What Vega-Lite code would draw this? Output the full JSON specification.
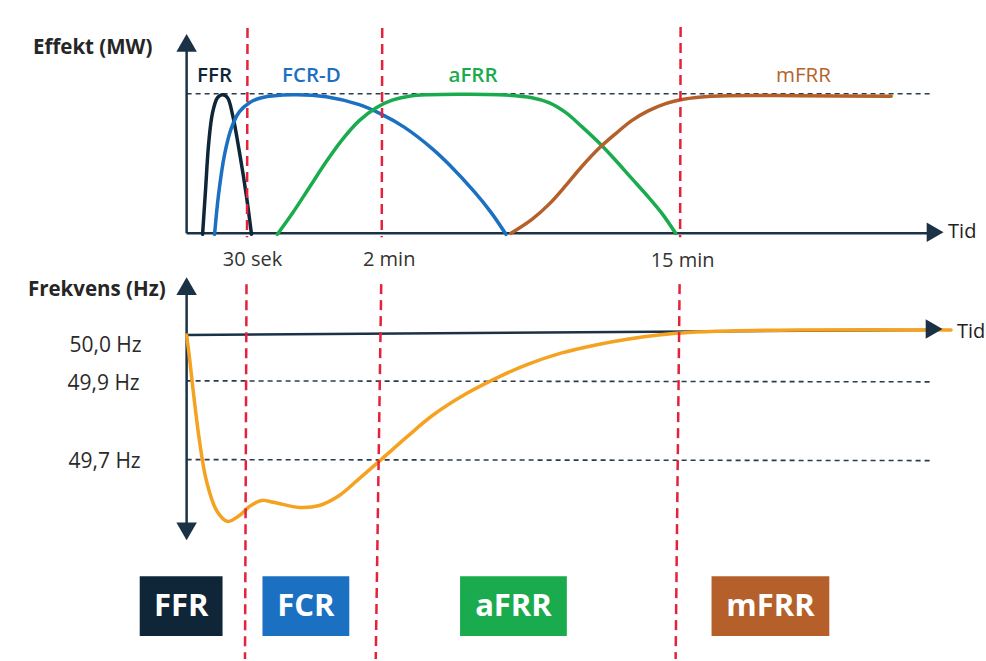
{
  "$schema": "https://vega.github.io/schema/vega-lite/v6.json",
  "width": 986,
  "height": 661,
  "autosize": {"type": "fit", "contains": "padding"},
  "padding": 0,
  "background": "white",
  "config": {"view": {"stroke": null}, "font": "Open Sans"},
  "datasets": {
    "curves": [
      {"series": "FFR", "x": 203, "y": 235}, {"series": "FFR", "x": 206, "y": 190}, {"series": "FFR", "x": 209, "y": 145}, {"series": "FFR", "x": 213, "y": 113}, {"series": "FFR", "x": 218, "y": 98}, {"series": "FFR", "x": 223, "y": 95}, {"series": "FFR", "x": 228, "y": 98}, {"series": "FFR", "x": 233, "y": 115}, {"series": "FFR", "x": 240, "y": 153}, {"series": "FFR", "x": 247, "y": 197}, {"series": "FFR", "x": 252, "y": 235},
      {"series": "FCR-D", "x": 215, "y": 235}, {"series": "FCR-D", "x": 219, "y": 195}, {"series": "FCR-D", "x": 225, "y": 155}, {"series": "FCR-D", "x": 232, "y": 128}, {"series": "FCR-D", "x": 240, "y": 112}, {"series": "FCR-D", "x": 250, "y": 103}, {"series": "FCR-D", "x": 262, "y": 98}, {"series": "FCR-D", "x": 293, "y": 95}, {"series": "FCR-D", "x": 327, "y": 97}, {"series": "FCR-D", "x": 360, "y": 105}, {"series": "FCR-D", "x": 383, "y": 115}, {"series": "FCR-D", "x": 405, "y": 127.5}, {"series": "FCR-D", "x": 433, "y": 149}, {"series": "FCR-D", "x": 450, "y": 165}, {"series": "FCR-D", "x": 475, "y": 192}, {"series": "FCR-D", "x": 492, "y": 213}, {"series": "FCR-D", "x": 507, "y": 235},
      {"series": "aFRR", "x": 278, "y": 235}, {"series": "aFRR", "x": 293, "y": 214}, {"series": "aFRR", "x": 310, "y": 188}, {"series": "aFRR", "x": 327, "y": 162}, {"series": "aFRR", "x": 343, "y": 140}, {"series": "aFRR", "x": 360, "y": 121}, {"series": "aFRR", "x": 377, "y": 108}, {"series": "aFRR", "x": 393, "y": 100.5}, {"series": "aFRR", "x": 410, "y": 96.5}, {"series": "aFRR", "x": 430, "y": 95}, {"series": "aFRR", "x": 460, "y": 94.5}, {"series": "aFRR", "x": 500, "y": 95}, {"series": "aFRR", "x": 533, "y": 98}, {"series": "aFRR", "x": 550, "y": 103}, {"series": "aFRR", "x": 567, "y": 113}, {"series": "aFRR", "x": 583, "y": 127}, {"series": "aFRR", "x": 600, "y": 143}, {"series": "aFRR", "x": 617, "y": 161}, {"series": "aFRR", "x": 633, "y": 179}, {"series": "aFRR", "x": 650, "y": 198}, {"series": "aFRR", "x": 664, "y": 215}, {"series": "aFRR", "x": 677, "y": 234},
      {"series": "mFRR", "x": 512, "y": 234}, {"series": "mFRR", "x": 533, "y": 220}, {"series": "mFRR", "x": 550, "y": 205}, {"series": "mFRR", "x": 567, "y": 186}, {"series": "mFRR", "x": 583, "y": 167}, {"series": "mFRR", "x": 600, "y": 149}, {"series": "mFRR", "x": 617, "y": 134}, {"series": "mFRR", "x": 633, "y": 121}, {"series": "mFRR", "x": 650, "y": 111}, {"series": "mFRR", "x": 667, "y": 104}, {"series": "mFRR", "x": 682, "y": 100}, {"series": "mFRR", "x": 700, "y": 97.5}, {"series": "mFRR", "x": 730, "y": 96}, {"series": "mFRR", "x": 800, "y": 96}, {"series": "mFRR", "x": 893, "y": 96.5},
      {"series": "Frekvens", "x": 187, "y": 336}, {"series": "Frekvens", "x": 190, "y": 360}, {"series": "Frekvens", "x": 193, "y": 387}, {"series": "Frekvens", "x": 200, "y": 443}, {"series": "Frekvens", "x": 207, "y": 483}, {"series": "Frekvens", "x": 217, "y": 512}, {"series": "Frekvens", "x": 228, "y": 523}, {"series": "Frekvens", "x": 240, "y": 517}, {"series": "Frekvens", "x": 250, "y": 508}, {"series": "Frekvens", "x": 262, "y": 502}, {"series": "Frekvens", "x": 275, "y": 504}, {"series": "Frekvens", "x": 300, "y": 509}, {"series": "Frekvens", "x": 320, "y": 507}, {"series": "Frekvens", "x": 340, "y": 497}, {"series": "Frekvens", "x": 360, "y": 480}, {"series": "Frekvens", "x": 383, "y": 460}, {"series": "Frekvens", "x": 408, "y": 438}, {"series": "Frekvens", "x": 433, "y": 417}, {"series": "Frekvens", "x": 467, "y": 395}, {"series": "Frekvens", "x": 500, "y": 378}, {"series": "Frekvens", "x": 530, "y": 365}, {"series": "Frekvens", "x": 563, "y": 354}, {"series": "Frekvens", "x": 597, "y": 346}, {"series": "Frekvens", "x": 630, "y": 340}, {"series": "Frekvens", "x": 660, "y": 336}, {"series": "Frekvens", "x": 690, "y": 333.5}, {"series": "Frekvens", "x": 730, "y": 332}, {"series": "Frekvens", "x": 800, "y": 331}, {"series": "Frekvens", "x": 953, "y": 331}
    ],
    "rules": [
      {"kind": "red", "x": 248, "y": 28, "x2": 247.5, "y2": 238},
      {"kind": "red", "x": 247, "y": 285, "x2": 245.5, "y2": 661},
      {"kind": "red", "x": 383, "y": 28, "x2": 382.5, "y2": 238},
      {"kind": "red", "x": 382, "y": 285, "x2": 376.5, "y2": 661},
      {"kind": "red", "x": 682, "y": 27, "x2": 681.5, "y2": 238},
      {"kind": "red", "x": 681, "y": 285, "x2": 677, "y2": 661},
      {"kind": "ref", "x": 187, "y": 94, "x2": 932, "y2": 94},
      {"kind": "ref", "x": 187, "y": 382, "x2": 932, "y2": 383},
      {"kind": "ref", "x": 187, "y": 461, "x2": 932, "y2": 462},
      {"kind": "axis", "x": 187, "y": 234, "x2": 187, "y2": 50},
      {"kind": "axis", "x": 187, "y": 234, "x2": 930, "y2": 234},
      {"kind": "axis", "x": 187, "y": 292, "x2": 187, "y2": 528},
      {"kind": "axis", "x": 187, "y": 336, "x2": 930, "y2": 331}
    ],
    "arrows": [
      {"dir": "up", "x": 187, "y": 43},
      {"dir": "up", "x": 187, "y": 287},
      {"dir": "down", "x": 187, "y": 533},
      {"dir": "right", "x": 937, "y": 233},
      {"dir": "right", "x": 936, "y": 330}
    ],
    "boxes": [
      {"series": "FFR", "x": 140, "x2": 223, "y": 578, "y2": 638},
      {"series": "FCR-D", "x": 263, "x2": 350, "y": 578, "y2": 638},
      {"series": "aFRR", "x": 461, "x2": 568, "y": 578, "y2": 638},
      {"series": "mFRR", "x": 713, "x2": 831, "y": 578, "y2": 638}
    ],
    "texts": [
      {"group": "title", "text": "Effekt (MW)", "x": 33, "y": 48},
      {"group": "title", "text": "Frekvens (Hz)", "x": 28, "y": 291},
      {"group": "series", "series": "FFR", "text": "FFR", "x": 215, "y": 76},
      {"group": "series", "series": "FCR-D", "text": "FCR-D", "x": 312, "y": 76},
      {"group": "series", "series": "aFRR", "text": "aFRR", "x": 474, "y": 76},
      {"group": "series", "series": "mFRR", "text": "mFRR", "x": 805, "y": 76},
      {"group": "tick", "text": "30 sek", "x": 253, "y": 261},
      {"group": "tick", "text": "2 min", "x": 390, "y": 261},
      {"group": "tick", "text": "15 min", "x": 684, "y": 262},
      {"group": "tid", "text": "Tid", "x": 950, "y": 233},
      {"group": "tid", "text": "Tid", "x": 959, "y": 333},
      {"group": "hz", "text": "50,0 Hz", "x": 142, "y": 347},
      {"group": "hz", "text": "49,9 Hz", "x": 140, "y": 385},
      {"group": "hz", "text": "49,7 Hz", "x": 141, "y": 463},
      {"group": "box", "text": "FFR", "x": 181.5, "y": 609},
      {"group": "box", "text": "FCR", "x": 306.5, "y": 609},
      {"group": "box", "text": "aFRR", "x": 514.5, "y": 609},
      {"group": "box", "text": "mFRR", "x": 772, "y": 609}
    ]
  },
  "encoding": {
    "x": {"field": "x", "type": "quantitative", "scale": {"domain": [0, 986], "nice": false, "zero": false}, "axis": null},
    "y": {"field": "y", "type": "quantitative", "scale": {"domain": [0, 661], "reverse": true, "nice": false, "zero": false}, "axis": null}
  },
  "layer": [
    {
      "data": {"name": "boxes"},
      "mark": {"type": "rect"},
      "encoding": {
        "x2": {"field": "x2"},
        "y2": {"field": "y2"},
        "color": {"field": "series", "type": "nominal", "legend": null, "scale": {"domain": ["FFR", "FCR-D", "aFRR", "mFRR", "Frekvens"], "range": ["#0f2638", "#1b70c2", "#1aab4e", "#b5602a", "#f4a21f"]}}
      }
    },
    {
      "data": {"name": "rules"},
      "transform": [{"filter": "datum.kind == 'ref'"}],
      "mark": {"type": "rule", "color": "#2a3b4d", "strokeWidth": 1.6, "strokeDash": [5, 4]},
      "encoding": {"x2": {"field": "x2"}, "y2": {"field": "y2"}}
    },
    {
      "data": {"name": "rules"},
      "transform": [{"filter": "datum.kind == 'axis'"}],
      "mark": {"type": "rule", "color": "#1b3246", "strokeWidth": 2.5},
      "encoding": {"x2": {"field": "x2"}, "y2": {"field": "y2"}}
    },
    {
      "data": {"name": "curves"},
      "mark": {"type": "line", "interpolate": "catmull-rom", "strokeWidth": 3.5, "strokeCap": "round"},
      "encoding": {
        "color": {"field": "series", "type": "nominal", "legend": null, "scale": {"domain": ["FFR", "FCR-D", "aFRR", "mFRR", "Frekvens"], "range": ["#13283a", "#1f6fc0", "#22ad4e", "#b5622c", "#f4a21f"]}}
      }
    },
    {
      "data": {"name": "rules"},
      "transform": [{"filter": "datum.kind == 'red'"}],
      "mark": {"type": "rule", "color": "#e3233b", "strokeWidth": 2.5, "strokeDash": [10, 6]},
      "encoding": {"x2": {"field": "x2"}, "y2": {"field": "y2"}}
    },
    {
      "data": {"name": "arrows"},
      "transform": [{"filter": "datum.dir == 'up'"}],
      "mark": {"type": "point", "shape": "triangle-up", "size": 420, "filled": true, "opacity": 1, "color": "#1b3246"}
    },
    {
      "data": {"name": "arrows"},
      "transform": [{"filter": "datum.dir == 'down'"}],
      "mark": {"type": "point", "shape": "triangle-down", "size": 420, "filled": true, "opacity": 1, "color": "#1b3246"}
    },
    {
      "data": {"name": "arrows"},
      "transform": [{"filter": "datum.dir == 'right'"}],
      "mark": {"type": "point", "shape": "triangle-right", "size": 380, "filled": true, "opacity": 1, "color": "#1b3246"}
    },
    {
      "data": {"name": "texts"},
      "transform": [{"filter": "datum.group == 'title'"}],
      "mark": {"type": "text", "align": "left", "baseline": "middle", "fontSize": 20.5, "fontWeight": "bold", "color": "#262626"},
      "encoding": {"text": {"field": "text"}}
    },
    {
      "data": {"name": "texts"},
      "transform": [{"filter": "datum.group == 'series' && datum.series != 'mFRR'"}],
      "mark": {"type": "text", "align": "center", "baseline": "middle", "fontSize": 20.5, "fontWeight": 600},
      "encoding": {
        "text": {"field": "text"},
        "color": {"field": "series", "type": "nominal", "legend": null, "scale": {"domain": ["FFR", "FCR-D", "aFRR", "mFRR", "Frekvens"], "range": ["#1c1c1c", "#1f6fc0", "#22ad4e", "#b5622c", "#f4a21f"]}}
      }
    },
    {
      "data": {"name": "texts"},
      "transform": [{"filter": "datum.group == 'series' && datum.series == 'mFRR'"}],
      "mark": {"type": "text", "align": "center", "baseline": "middle", "fontSize": 20.5, "fontWeight": "normal", "color": "#b5622c"},
      "encoding": {"text": {"field": "text"}}
    },
    {
      "data": {"name": "texts"},
      "transform": [{"filter": "datum.group == 'tick'"}],
      "mark": {"type": "text", "align": "center", "baseline": "middle", "fontSize": 20, "color": "#333333"},
      "encoding": {"text": {"field": "text"}}
    },
    {
      "data": {"name": "texts"},
      "transform": [{"filter": "datum.group == 'tid'"}],
      "mark": {"type": "text", "align": "left", "baseline": "middle", "fontSize": 20, "color": "#222222"},
      "encoding": {"text": {"field": "text"}}
    },
    {
      "data": {"name": "texts"},
      "transform": [{"filter": "datum.group == 'hz'"}],
      "mark": {"type": "text", "align": "right", "baseline": "middle", "fontSize": 21, "color": "#2a2a2a"},
      "encoding": {"text": {"field": "text"}}
    },
    {
      "data": {"name": "texts"},
      "transform": [{"filter": "datum.group == 'box'"}],
      "mark": {"type": "text", "align": "center", "baseline": "middle", "fontSize": 31, "fontWeight": "bold", "color": "#ffffff"},
      "encoding": {"text": {"field": "text"}}
    }
  ]
}
